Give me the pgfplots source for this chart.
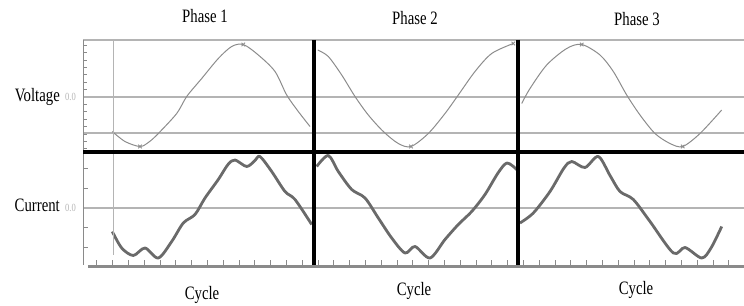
\documentclass[border=0pt]{standalone}
\usepackage{pgfplots}
\pgfplotsset{compat=1.18}
\usepackage{fontspec}
\setmainfont{Liberation Serif}[FakeStretch=0.78]
\definecolor{vcol}{HTML}{8C8C8C}
\definecolor{icol}{HTML}{6A6A6A}
\definecolor{gridc}{HTML}{B4B4B4}
\definecolor{axc}{HTML}{8A8A8A}
\begin{document}
\begin{tikzpicture}
\useasboundingbox (0bp,0bp) rectangle (744bp,306bp);
% ---------------- Voltage panel ----------------
\begin{axis}[at={(83bp,154bp)}, anchor=south west, scale only axis,
  width=661bp, height=112bp, xmin=83, xmax=744, ymin=-1.10, ymax=1.14,
  axis line style={draw=none}, xtick=\empty,
  ytick distance=0.148, ytick pos=left, tick align=inside,
  xticklabels={}, yticklabels={},
  major tick length=4bp, tick style={axc, line width=0.6bp}, clip=false]
\draw[gridc, line width=1.2bp] (axis cs:83,1.14) -- (axis cs:744,1.14);
\draw[gridc, line width=1.2bp] (axis cs:83,0) -- (axis cs:744,0);
\draw[gridc, line width=1.2bp] (axis cs:83,-0.72) -- (axis cs:744,-0.72);
% phase 1
\addplot[vcol, line width=1bp, smooth, tension=0.5] coordinates {
(112.3,-0.69) (125,-0.89) (140,-0.99) (149,-0.90) (158.3,-0.73) (176.7,-0.33)
(186.7,0.01) (201.7,0.37) (218.3,0.77) (231.7,1.01) (243.3,1.05) (258.3,0.84)
(275,0.51) (286.7,0.04) (298.3,-0.29) (310,-0.59)};
% phase 2
\addplot[vcol, line width=1bp, smooth, tension=0.5] coordinates {
(317.7,0.94) (328.3,0.81) (341.7,0.44) (355,0.01) (368.3,-0.36) (383.3,-0.69)
(398.3,-0.93) (411,-0.99) (428.3,-0.73) (445,-0.33) (458.3,0.04) (475,0.51)
(491.7,0.87) (513.3,1.07)};
% phase 3
\addplot[vcol, line width=1bp, smooth, tension=0.5] coordinates {
(521.7,-0.13) (530,0.17) (546.7,0.64) (566.7,0.97) (581.7,1.05) (600,0.84)
(613.3,0.51) (626.7,0.04) (640,-0.36) (655,-0.73) (670,-0.93) (682.7,-0.99)
(700,-0.73) (721.7,-0.26)};
% extreme markers
\addplot[only marks, mark=x, mark size=2.5bp, vcol, line width=0.8bp] coordinates {
(140,-0.99) (243.3,1.05) (411,-0.99) (513.3,1.07) (581.7,1.05) (682.7,-0.99)};
\end{axis}
% ---------------- Current panel ----------------
\begin{axis}[at={(83bp,41bp)}, anchor=south west, scale only axis,
  width=661bp, height=113bp, xmin=83, xmax=744, ymin=-1.14, ymax=1.12,
  axis line style={draw=none},
  xtick={96.7,112.5,...,744}, xtick pos=bottom,
  ytick distance=0.394, ytick pos=left, tick align=inside,
  xticklabels={}, yticklabels={},
  major tick length=4.5bp, tick style={axc, line width=0.7bp}, clip=false]
\draw[gridc, line width=1.2bp] (axis cs:83,0) -- (axis cs:744,0);
% phase 1
\addplot[icol, line width=2.8bp, smooth, tension=0.5, line join=round] coordinates {
(112.3,-0.47) (121.7,-0.80) (133.3,-0.95) (145,-0.80) (158.3,-1.00) (171.7,-0.67)
(183.3,-0.30) (195,-0.13) (205,0.20) (218.3,0.57) (228,0.87) (235,0.96)
(246.7,0.83) (255,0.95) (260,1.03) (271.7,0.73) (285,0.33) (295,0.17) (311.7,-0.33)};
% phase 2
\addplot[icol, line width=2.8bp, smooth, tension=0.5, line join=round] coordinates {
(316.7,0.83) (328.3,1.05) (338.3,0.73) (351.7,0.37) (365,0.20) (378.3,-0.20)
(391.7,-0.60) (405,-0.90) (415,-0.77) (430,-1.00) (445,-0.63) (458.3,-0.33)
(471.7,-0.07) (485,0.27) (498,0.70) (507,0.90) (516.7,0.77)};
% phase 3
\addplot[icol, line width=2.8bp, smooth, tension=0.5, line join=round] coordinates {
(520,-0.30) (533.3,-0.10) (550,0.33) (564,0.80) (571.7,0.93) (585,0.81)
(598.3,1.03) (610,0.65) (620,0.33) (633.3,0.17) (650,-0.27) (673.3,-0.90)
(685,-0.79) (701.7,-1.00) (711,-0.80) (721.7,-0.37)};
\end{axis}
% ---------------- frame lines ----------------
\draw[axc, line width=3bp] (88bp,39.5bp) -- (744bp,39.5bp);
\draw[axc, line width=0.8bp] (83bp,266bp) -- (83bp,41bp);
\draw[gridc, line width=0.9bp] (113bp,266bp) -- (113bp,51bp);
\draw[black, line width=3.2bp] (83bp,154bp) -- (744bp,154bp);
\draw[black, line width=3.2bp] (314bp,266bp) -- (314bp,41bp);
\draw[black, line width=3.2bp] (518bp,266bp) -- (518bp,41bp);
% ---------------- texts ----------------
\node[anchor=base, font=\fontsize{19}{22}\selectfont] at (205bp,283bp) {Phase 1};
\node[anchor=base, font=\fontsize{19}{22}\selectfont] at (415bp,281bp) {Phase 2};
\node[anchor=base, font=\fontsize{19}{22}\selectfont] at (637bp,280bp) {Phase 3};
\node[anchor=base east, font=\fontsize{19}{22}\selectfont, inner sep=0pt] at (60bp,204bp) {Voltage};
\node[anchor=base east, font=\fontsize{19}{22}\selectfont, inner sep=0pt] at (60bp,94bp) {Current};
\node[anchor=base west, font=\fontsize{11}{12}\selectfont, text=gridc, inner sep=0pt] at (65bp,205.5bp) {0.0};
\node[anchor=base west, font=\fontsize{11}{12}\selectfont, text=gridc, inner sep=0pt] at (65bp,94.5bp) {0.0};
\node[anchor=base, font=\fontsize{19}{22}\selectfont] at (202bp,7bp) {Cycle};
\node[anchor=base, font=\fontsize{19}{22}\selectfont] at (414bp,11bp) {Cycle};
\node[anchor=base, font=\fontsize{19}{22}\selectfont] at (636bp,12bp) {Cycle};
\end{tikzpicture}
\end{document}
